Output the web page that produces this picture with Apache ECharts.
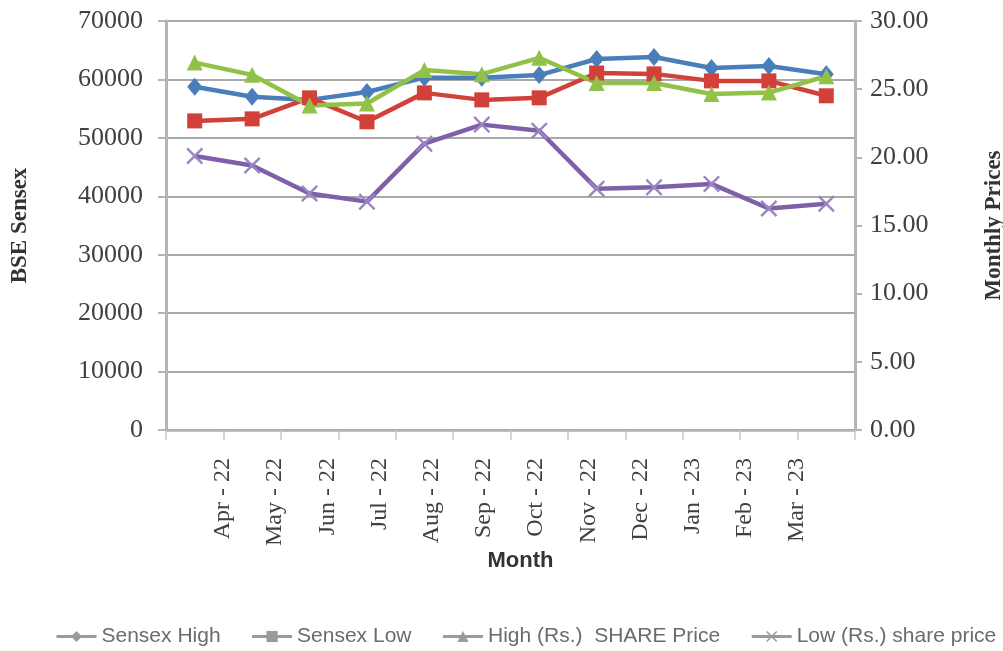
<!DOCTYPE html>
<html lang="en">
<head>
    <meta charset="utf-8"/>
    <title>Sensex vs share price</title>
    <style>
        html, body { margin: 0; padding: 0; background: #fff; }
        #chart { width: 1003px; height: 651px; }
    </style>
</head>
<body>
<div id="chart"></div>

<script src="https://cdn.jsdelivr.net/npm/echarts@6/dist/echarts.min.js"></script>
<script type="text/javascript">
    // data
    var months = ['Apr - 22', 'May - 22', 'Jun - 22', 'Jul - 22', 'Aug - 22', 'Sep - 22',
                  'Oct - 22', 'Nov - 22', 'Dec - 22', 'Jan - 23', 'Feb - 23', 'Mar - 23'];
    var sensexHigh = [58750, 57050, 56500, 57850, 60300, 60300, 60750, 63500, 63850, 61950, 62300, 60900];
    var sensexLow  = [52900, 53250, 56850, 52750, 57700, 56500, 56850, 61100, 60950, 59750, 59750, 57200];
    var shareHigh  = [26.95, 26.05, 23.80, 23.95, 26.40, 26.10, 27.30, 25.45, 25.45, 24.65, 24.75, 25.95];
    var shareLow   = [20.10, 19.40, 17.35, 16.75, 21.00, 22.40, 21.95, 17.70, 17.80, 18.05, 16.25, 16.60];
    var seriesNames = ['Sensex High', 'Sensex Low', 'High (Rs.)  SHARE Price', 'Low (Rs.) share price'];

    var serif = '"Liberation Serif", "DejaVu Serif", serif';
    var sans = '"Liberation Sans", "Open Sans", sans-serif';
    var crossPath = 'path://M0,1 L1,0 L5,4 L9,0 L10,1 L6,5 L10,9 L9,10 L5,6 L1,10 L0,9 L4,5 Z';

    var myChart = echarts.init(document.getElementById('chart'));

    var option = {
        animation: false,
        backgroundColor: '#fff',
        grid: [
            {left: 166, right: 148, top: 21, bottom: 221, outerBoundsMode: 'none'},
            {left: 223, right: 206, top: 21, bottom: 221, outerBoundsMode: 'none'}
        ],
        legend: {
            left: 55,
            top: 626,
            padding: 0,
            itemWidth: 40,
            itemHeight: 14,
            itemGap: 30,
            textStyle: {fontFamily: sans, fontSize: 21, color: '#6b6b6b'},
            data: seriesNames.map(function (n) {
                return {name: n, itemStyle: {color: '#9a9a9a'}, lineStyle: {color: '#9a9a9a', width: 3}};
            })
        },
        xAxis: [
            {
                type: 'category',
                gridIndex: 0,
                data: months,
                boundaryGap: true,
                name: 'Month',
                nameLocation: 'middle',
                nameGap: 120,
                nameTextStyle: {fontFamily: sans, fontWeight: 'bold', fontSize: 22, color: '#333', padding: [0, 0, 0, 20]},
                axisLine: {lineStyle: {color: '#b0b0b0', width: 2.5}},
                axisTick: {show: true, interval: 0, length: 10, lineStyle: {color: '#c8c8c8', width: 1.5}},
                axisLabel: {show: false},
                splitLine: {show: false}
            },
            {
                type: 'category',
                gridIndex: 1,
                data: months,
                boundaryGap: false,
                axisLine: {show: false},
                axisTick: {show: false},
                axisLabel: {rotate: 90, margin: 28, fontFamily: serif, fontSize: 24, color: '#404040', interval: 0},
                splitLine: {show: false}
            }
        ],
        yAxis: [
            {
                type: 'value',
                gridIndex: 0,
                min: 0,
                max: 70000,
                interval: 10000,
                position: 'left',
                name: 'BSE Sensex',
                nameLocation: 'middle',
                nameGap: 134,
                nameTextStyle: {fontFamily: serif, fontWeight: 'bold', fontSize: 23, color: '#333'},
                axisLine: {show: true, lineStyle: {color: '#b5b5b5', width: 3}},
                axisTick: {show: true, length: 8, lineStyle: {color: '#b5b5b5', width: 2}},
                axisLabel: {
                    margin: 23, fontFamily: serif, fontSize: 26, color: '#404040',
                    formatter: function (v) { return String(v); }
                },
                splitLine: {lineStyle: {color: '#8c8c8c', width: 1.5}}
            },
            {
                type: 'value',
                gridIndex: 0,
                min: 0,
                max: 30,
                interval: 5,
                position: 'right',
                name: 'Monthly Prices',
                nameLocation: 'middle',
                nameGap: 128,
                nameTextStyle: {fontFamily: serif, fontWeight: 'bold', fontSize: 23, color: '#333'},
                axisLine: {show: true, lineStyle: {color: '#b5b5b5', width: 3}},
                axisTick: {show: true, length: 7, lineStyle: {color: '#b5b5b5', width: 2}},
                axisLabel: {
                    margin: 15, fontFamily: serif, fontSize: 26, color: '#404040',
                    formatter: function (v) { return v.toFixed(2); }
                },
                splitLine: {show: false}
            },
            {type: 'value', gridIndex: 1, show: false}
        ],
        series: [
            {
                name: seriesNames[0], type: 'line', data: sensexHigh, yAxisIndex: 0,
                symbol: 'diamond', symbolSize: [15, 18],
                itemStyle: {color: '#4a7ebb'}, lineStyle: {width: 4.5, color: '#4a7ebb'}
            },
            {
                name: seriesNames[1], type: 'line', data: sensexLow, yAxisIndex: 0,
                symbol: 'rect', symbolSize: 15,
                itemStyle: {color: '#d2403a'}, lineStyle: {width: 4.5, color: '#d2403a'}
            },
            {
                name: seriesNames[2], type: 'line', data: shareHigh, yAxisIndex: 1,
                symbol: 'triangle', symbolSize: 16,
                itemStyle: {color: '#92c148'}, lineStyle: {width: 4.5, color: '#92c148'}
            },
            {
                name: seriesNames[3], type: 'line', data: shareLow, yAxisIndex: 1,
                symbol: crossPath, symbolSize: 17,
                itemStyle: {color: '#9a86c0'}, lineStyle: {width: 4.5, color: '#7e5fa8'}
            }
        ]
    };

    myChart.setOption(option, true);
</script>
</body>
</html>
